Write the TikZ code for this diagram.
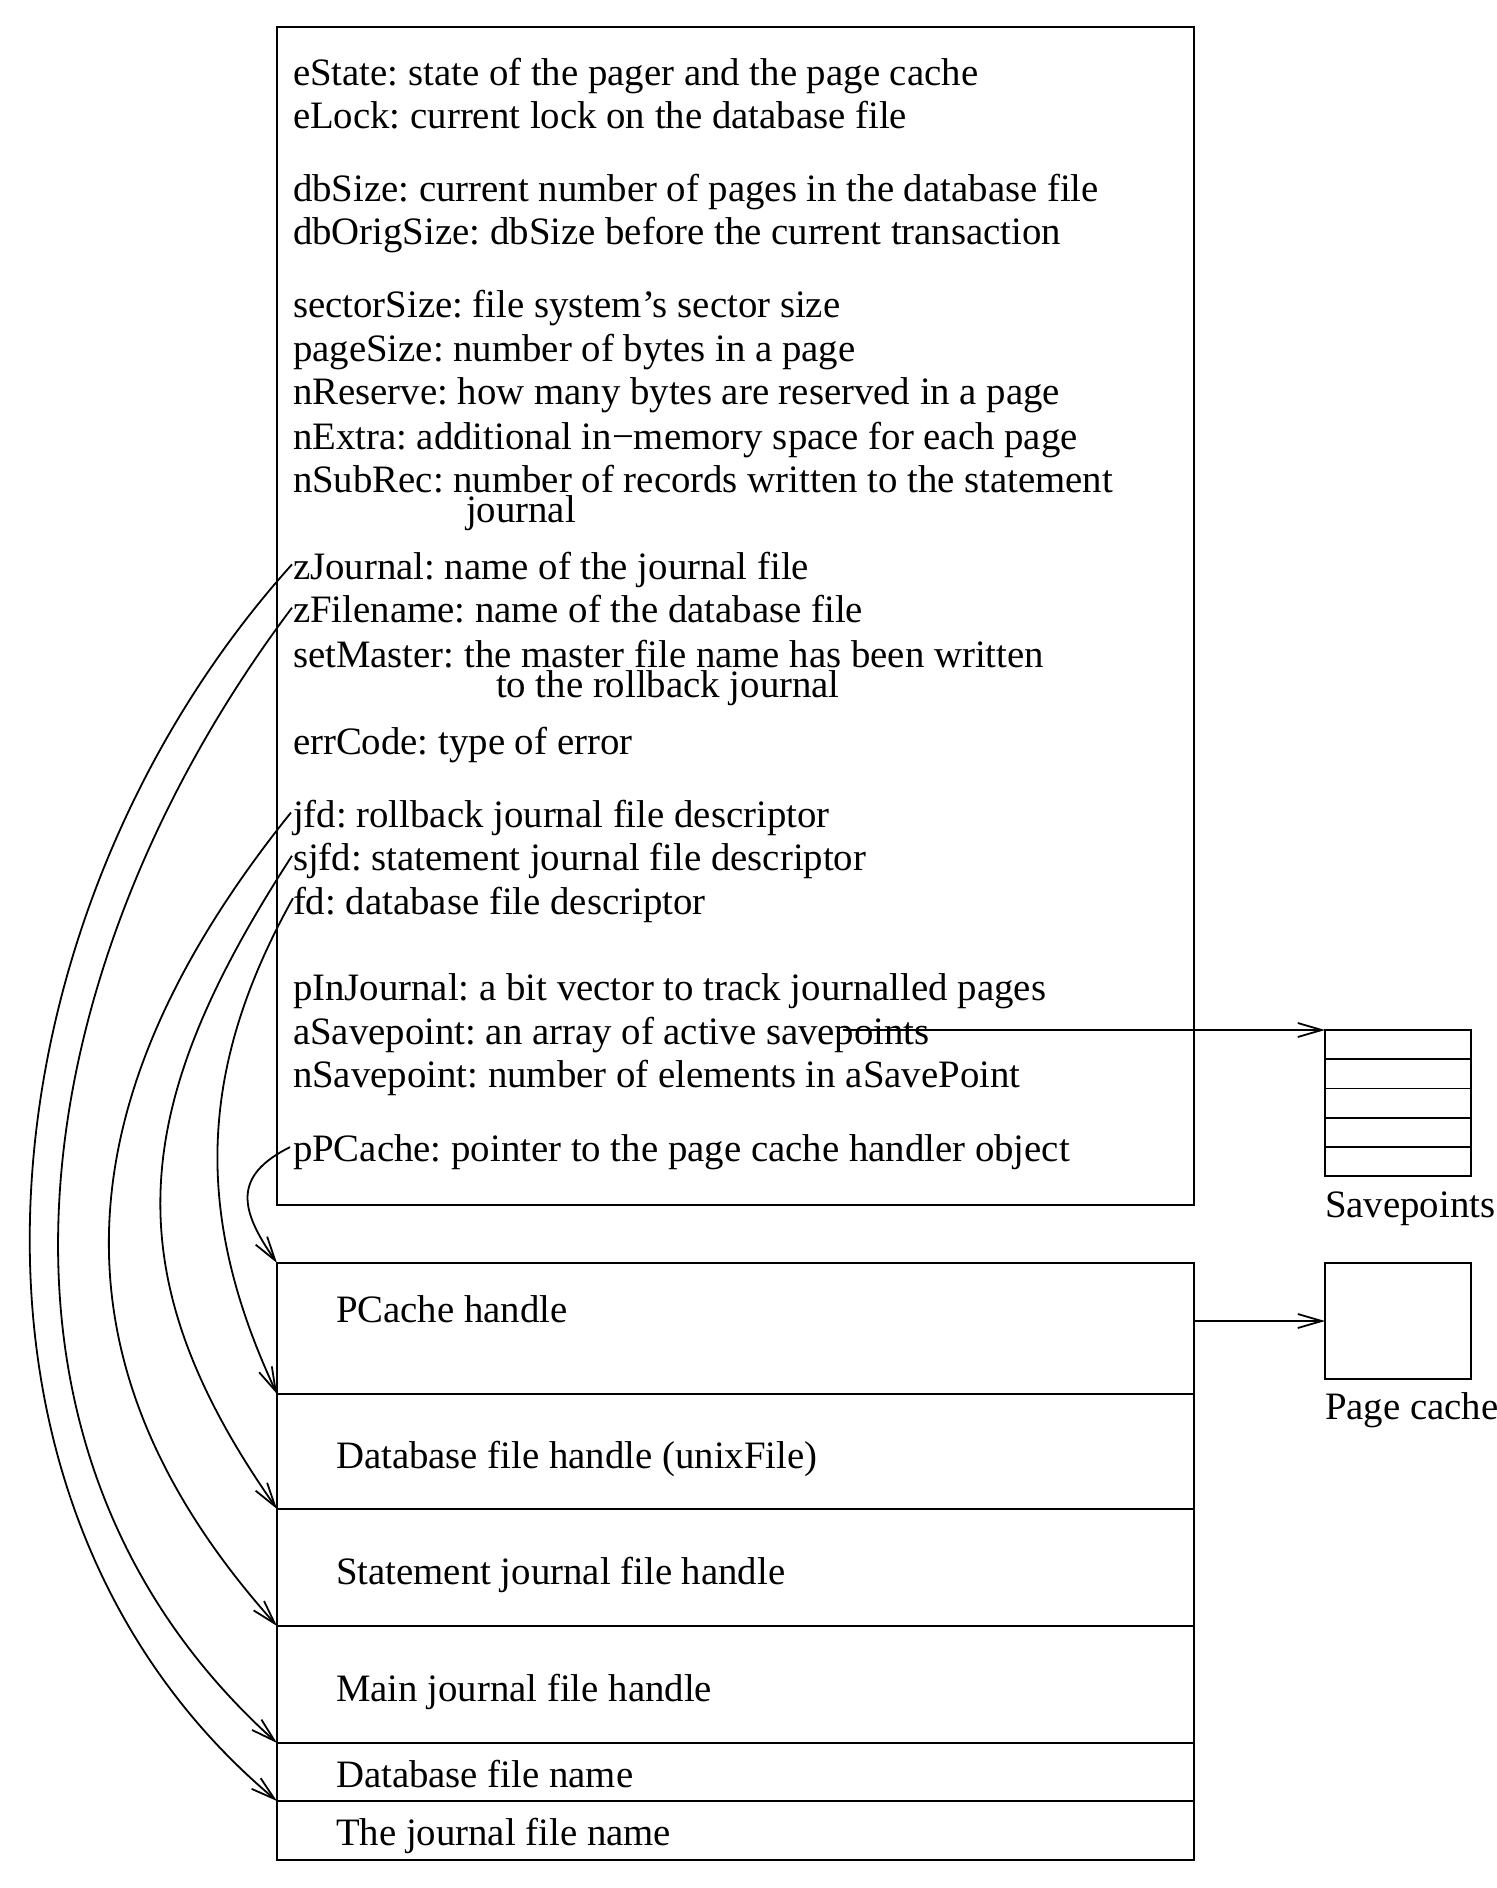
\documentclass[tikz,border=0pt]{standalone}
\usepackage{fontspec}
\setmainfont{Liberation Serif}
\usetikzlibrary{arrows.meta,calc}
\frenchspacing
\begin{document}
\begin{tikzpicture}[x=0.5pt,y=-0.5pt,
  txt/.style={anchor=base west, inner sep=0pt, outer sep=0pt, font=\fontsize{19.4}{23}\selectfont},
  box/.style={draw, line width=0.9pt, rectangle, anchor=north west, inner sep=0pt, outer sep=0pt, minimum width=458.5pt},
  smallbox/.style={draw, line width=0.9pt, rectangle, anchor=north west, inner sep=0pt, outer sep=0pt, minimum width=73pt},
  arr/.style={line width=0.9pt, -{Straight Barb[length=12pt,width=7pt,line width=0.9pt]}}]
\useasboundingbox (0,0) rectangle (1496,1888);

% pager structure box
\node[box, minimum height=589pt] (pager) at (277,27) {};
\node[txt] (t1) at (293,85.5) {eState: state of the pager and the page cache};
\node[txt] (t2) at (293,128.9) {eLock: current lock on the database file};
\node[txt] (t3) at (293,201.2) {dbSize: current number of pages in the database file};
\node[txt] (t4) at (293,244.5) {dbOrigSize: dbSize before the current transaction};
\node[txt] (t5) at (293,318) {sectorSize: file system’s sector size};
\node[txt] (t6) at (293,361.4) {pageSize: number of bytes in a page};
\node[txt] (t7) at (293,404.7) {nReserve: how many bytes are reserved in a page};
\node[txt] (t8) at (293,449.3) {nExtra: additional in−memory space for each page};
\node[txt] (t9) at (293,492.6) {nSubRec: number of records written to the statement};
\node[txt] (t9b) at (466,522.8) {journal};
\node[txt] (zj) at (293,579.4) {zJournal: name of the journal file};
\node[txt] (zf) at (293,622.7) {zFilename: name of the database file};
\node[txt] (sm) at (293,667.3) {setMaster: the master file name has been written};
\node[txt] (smb) at (496,697.4) {to the rollback journal};
\node[txt] (ec) at (293,754) {errCode: type of error};
\node[txt] (jfd) at (293,827.5) {jfd: rollback journal file descriptor};
\node[txt] (sjfd) at (293,870.8) {sjfd: statement journal file descriptor};
\node[txt] (fd) at (293,914.2) {fd: database file descriptor};
\node[txt] (pij) at (293,1000.9) {pInJournal: a bit vector to track journalled pages};
\node[txt] (asv) at (293,1044.3) {aSavepoint: an array of active savepoints};
\node[txt] (nsv) at (293,1087.7) {nSavepoint: number of elements in aSavePoint};
\node[txt] (ppc) at (293,1161.1) {pPCache: pointer to the page cache handler object};

% lower boxes
\node[box, minimum height=65.5pt] (pc) at (277,1263) {};
\node[box, minimum height=57.5pt] (dbh) at (277,1394) {};
\node[box, minimum height=58.5pt] (sjh) at (277,1509) {};
\node[box, minimum height=58.5pt] (mjh) at (277,1626) {};
\node[box, minimum height=29pt] (dbn) at (277,1743) {};
\node[box, minimum height=29.5pt] (jn) at (277,1801) {};
\node[txt] (pct) at (336,1322.5) {PCache handle};
\node[txt] (dbht) at (336,1468) {Database file handle (unixFile)};
\node[txt] (sjht) at (336,1584) {Statement journal file handle};
\node[txt] (mjht) at (336,1701) {Main journal file handle};
\node[txt] (dbnt) at (336,1787.5) {Database file name};
\node[txt] (jnt) at (336,1845) {The journal file name};

% savepoints and page cache
\node[smallbox, minimum height=73pt] (sp) at (1325,1030) {};
\draw[line width=0.9pt] (1325,1059.2) -- (1471,1059.2)
  (1325,1088.4) -- (1471,1088.4)
  (1325,1117.6) -- (1471,1117.6)
  (1325,1146.8) -- (1471,1146.8);
\node[txt] (spt) at (1325,1217) {Savepoints};
\node[smallbox, minimum height=58pt] (pgc) at (1325,1263) {};
\node[txt] (pgct) at (1325,1419) {Page cache};

% connectors
\coordinate (asvs) at (843,1030);
\draw[arr] (asvs) -- (sp.north west);
\draw[arr] (pgc.west -| pc.east) -- (pgc.west);

\coordinate (zjs) at ($(zj.base west)+(-1,-15)$);
\coordinate (zfs) at ($(zf.base west)+(-1,-15)$);
\coordinate (jfs) at ($(jfd.base west)+(-2,-15)$);
\coordinate (sjs) at ($(sjfd.base west)+(-1,-15)$);
\coordinate (fds) at ($(fd.base west)+(0,-16)$);
\coordinate (pps) at ($(ppc.base west)+(-3,-14)$);

\draw[arr] (zjs) .. controls +(-315,350) and +(-361,-303) .. (jn.north west);
\draw[arr] (zfs) .. controls +(-268,356) and +(-331,-298) .. (dbn.north west);
\draw[arr] (jfs) .. controls +(-225,280) and +(-240,-268) .. (mjh.north west);
\draw[arr] (sjs) .. controls +(-160,247) and +(-169,-241) .. (sjh.north west);
\draw[arr] (fds) .. controls +(-96,172) and +(-83,-178) .. (dbh.north west);
\draw[arr] (pps) .. controls +(-58,29) and +(-37,-53) .. (pc.north west);
\end{tikzpicture}
\end{document}
